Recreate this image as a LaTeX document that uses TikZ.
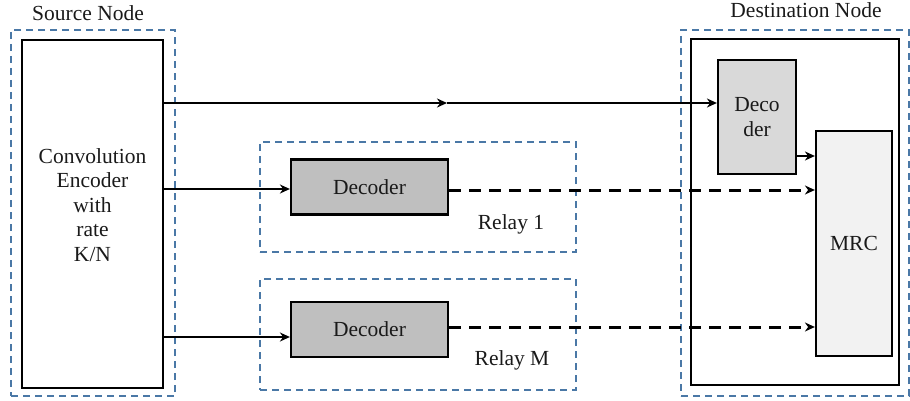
\documentclass[tikz,border=0pt]{standalone}
\usepackage{fontspec}
\setmainfont{Liberation Serif}
\usetikzlibrary{arrows.meta}
\definecolor{groupblue}{HTML}{4A78A6}
\definecolor{relaygray}{HTML}{BFBFBF}
\definecolor{decgray}{HTML}{D9D9D9}
\definecolor{mrcgray}{HTML}{F2F2F2}
\definecolor{textgray}{HTML}{1A1A1A}
\tikzset{
  group/.style={draw=groupblue, line width=1.6pt, dash pattern=on 7pt off 5pt, rectangle, inner sep=0pt},
  block/.style={draw=black, line width=2.2pt, rectangle, inner sep=0pt, align=center},
  solidlink/.style={line width=2.2pt, -{Stealth[length=10pt,width=9pt]}},
  dashlink/.style={line width=3pt, dash pattern=on 12pt off 8pt, -{Stealth[length=10pt,width=9pt]}},
  lbl/.style={inner sep=0pt, align=center}
}
\begin{document}
\begin{tikzpicture}[x=1pt, y=-1pt, font=\fontsize{21.5}{24.5}\selectfont, text=textgray]
\useasboundingbox (0,0) rectangle (910,401);

% dashed enclosures
\node[group, minimum width=164pt, minimum height=366pt] (srcgrp) at (93,213) {};
\node[group, minimum width=316pt, minimum height=110pt] (relay1) at (418,197) {};
\node[group, minimum width=316pt, minimum height=111pt] (relayM) at (418,334.5) {};
\node[group, minimum width=228pt, minimum height=366pt] (dstgrp) at (795,213) {};

% group titles
\node[lbl] (srctitle) at (88,13) {Source Node};
\node[lbl] (dsttitle) at (806,10) {Destination Node};

% source encoder
\node[block, minimum width=141pt, minimum height=348pt] (src) at (92.5,214) {};
\node[lbl] (srctext) at (92.5,205) {Convolution\\Encoder\\with\\rate\\K/N};

% relay decoders
\node[block, fill=relaygray, minimum width=157pt, minimum height=55pt] (dec1) at (369.5,187) {Decoder};
\node[block, fill=relaygray, minimum width=157pt, minimum height=55pt] (decM) at (369.5,329.5) {Decoder};
\node[lbl] (r1text) at (511,224) {Relay 1};
\node[lbl] (rMtext) at (512,360) {Relay M};

% destination
\node[block, minimum width=208pt, minimum height=346pt] (dst) at (795,212) {};
\node[block, fill=decgray, minimum width=78pt, minimum height=114pt] (dec0) at (757,117) {Deco\\der};
\node[block, fill=mrcgray, minimum width=76pt, minimum height=225pt] (mrc) at (854,243.5) {MRC};

% direct link with a mid-way arrowhead
\coordinate (a1) at (src.east |- 0,103);
\coordinate (amid) at (447,103);
\draw[solidlink] (a1) -- (amid);
\draw[solidlink] (amid) -- (dec0.west |- a1);

% source to relays
\coordinate (a2) at (src.east |- 0,189);
\draw[solidlink] (a2) -- (dec1.west |- a2);
\coordinate (a3) at (src.east |- 0,337);
\draw[solidlink] (a3) -- (decM.west |- a3);

% destination decoder to MRC
\coordinate (b0) at (dec0.east |- 0,156);
\draw[solidlink] (b0) -- (mrc.west |- b0);

% relays to MRC
\coordinate (b1) at (dec1.east |- 0,190);
\draw[dashlink] (b1) -- (mrc.west |- b1);
\coordinate (b2) at (decM.east |- 0,327);
\draw[dashlink] (b2) -- (mrc.west |- b2);
\end{tikzpicture}
\end{document}
